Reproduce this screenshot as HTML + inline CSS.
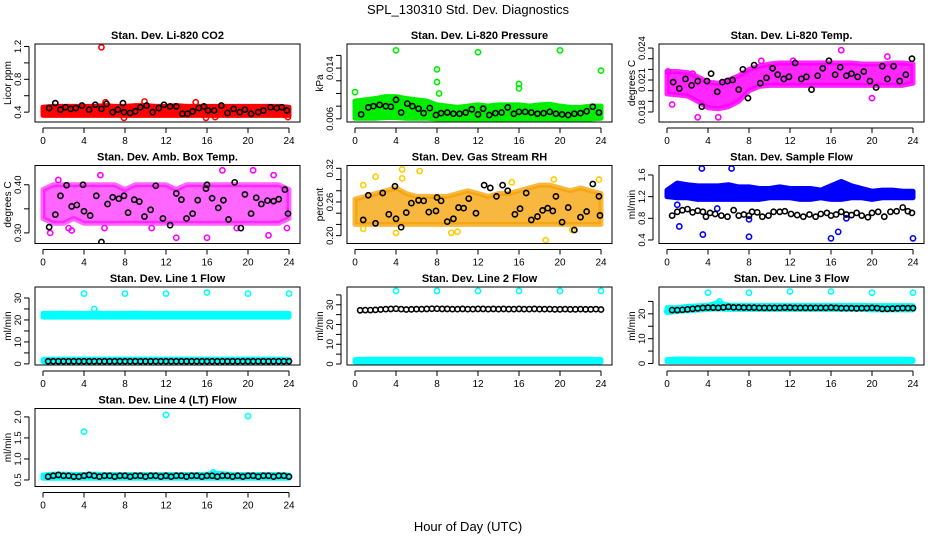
<!DOCTYPE html>
<html><head><meta charset="utf-8"><style>
body{margin:0;background:#fff}
svg{display:block;font-family:"Liberation Sans",sans-serif}
</style></head><body>
<svg id="c" width="936" height="540" viewBox="0 0 936 540">
<text x="468" y="14" text-anchor="middle" font-size="13">SPL_130310  Std. Dev. Diagnostics</text>
<text x="468" y="531" text-anchor="middle" font-size="13">Hour of Day (UTC)</text>
</svg>
<script>
const hours=[0,1,2,3,4,5,6,7,8,9,10,11,12,13,14,15,16,17,18,19,20,21,22,23,24];
// ---- Panel 1: Li-820 CO2
const p1Lo=[0.36,0.36,0.36,0.36,0.36,0.36,0.36,0.36,0.36,0.36,0.36,0.36,0.36,0.36,0.36,0.36,0.36,0.36,0.36,0.36,0.36,0.36,0.36,0.36,0.36];
const p1Hi=[0.46,0.47,0.47,0.47,0.47,0.47,0.48,0.47,0.47,0.48,0.48,0.47,0.47,0.48,0.47,0.47,0.47,0.47,0.47,0.47,0.47,0.47,0.47,0.47,0.46];
const p1OutX=[5.7,7.9,15.9,16.8,23.9,9.9,6.1,14.9];
const p1OutY=[1.19,0.33,0.33,0.34,0.34,0.53,0.52,0.52];
const p1BX=[0.6,1.2,1.7,2.2,2.7,3.2,3.8,4.5,5.1,5.7,6.2,6.8,7.3,7.8,7.9,8.5,9,9.5,10.1,10.7,11.3,11.8,12.4,13,13.6,14.1,14.6,15.2,15.7,16.1,16.7,17.4,18,18.6,19.2,19.7,20.3,21,21.5,22.2,22.8,23.3,23.8];
const p1BY=[0.45,0.51,0.43,0.46,0.44,0.45,0.48,0.43,0.49,0.44,0.50,0.40,0.43,0.51,0.40,0.39,0.41,0.46,0.48,0.40,0.45,0.49,0.47,0.47,0.38,0.38,0.41,0.45,0.47,0.42,0.42,0.48,0.39,0.44,0.40,0.43,0.38,0.40,0.42,0.46,0.45,0.46,0.42];
// ---- Panel 2: Pressure
const p2Lo=[0.0061,0.0061,0.0061,0.0062,0.0062,0.0061,0.0061,0.0061,0.0060,0.0060,0.0060,0.0060,0.0060,0.0060,0.0060,0.0060,0.0060,0.0060,0.0060,0.0060,0.0060,0.0060,0.0060,0.0060,0.0061];
const p2Hi=[0.0088,0.0090,0.0092,0.0095,0.0095,0.0092,0.0090,0.0088,0.0082,0.0080,0.0078,0.0080,0.0082,0.0080,0.0082,0.0082,0.0082,0.0080,0.0082,0.0083,0.0080,0.0078,0.0078,0.0080,0.0080];
const p2OutX=[4,12,20,24,8,8,16,16,0,14,20,8.2];
const p2OutY=[0.0168,0.0165,0.0168,0.0136,0.0138,0.0118,0.0115,0.0108,0.0102,0.0057,0.0057,0.0100];
const p2BX=[0.6,1.3,1.8,2.4,3,3.5,4,4.5,5.1,5.6,6.2,6.7,7.3,7.9,8.4,9,9.6,10.2,10.8,11.4,12,12.5,13.1,13.7,14.3,14.9,15.5,16,16.6,17.2,17.8,18.4,19,19.6,20.2,20.8,21.4,22,22.6,23.2,23.8];
const p2BY=[0.0067,0.0078,0.0080,0.0082,0.0080,0.0079,0.0090,0.0070,0.0084,0.0080,0.0076,0.0069,0.0077,0.0066,0.0069,0.0070,0.0068,0.0068,0.0070,0.0075,0.0067,0.0076,0.0066,0.0069,0.0070,0.0078,0.0068,0.0071,0.0071,0.0070,0.0068,0.0069,0.0071,0.0068,0.0067,0.0066,0.0068,0.0069,0.0072,0.0079,0.0070];
// ---- Panel 3: Li-820 Temp
const p3Lo=[0.0197,0.0196,0.0195,0.0190,0.0184,0.0183,0.0185,0.0190,0.0200,0.0204,0.0205,0.0205,0.0205,0.0205,0.0205,0.0205,0.0205,0.0205,0.0205,0.0205,0.0205,0.0205,0.0205,0.0205,0.0207];
const p3Hi=[0.0218,0.0218,0.0217,0.0213,0.0208,0.0207,0.0210,0.0214,0.0220,0.0223,0.0225,0.0226,0.0226,0.0226,0.0226,0.0226,0.0226,0.0226,0.0226,0.0225,0.0225,0.0225,0.0226,0.0226,0.0225];
const p3OutX=[17,3,5,20,0.5,9.2,12.3,21.5,0.1,2.5];
const p3OutY=[0.0238,0.0175,0.0175,0.0193,0.0187,0.0228,0.0228,0.0232,0.0218,0.0216];
const p3BX=[0.6,1.2,1.8,2.4,3,3.4,3.9,4.3,4.9,5.4,5.9,6.4,7,7.4,7.9,8.5,9.1,9.7,10.3,10.8,11.4,11.9,12.5,13.1,13.6,14.1,14.7,15.2,15.8,16.4,16.9,17.5,18,18.6,19.2,19.8,20.4,21,21.5,22.1,22.7,23.3,23.9];
const p3BY=[0.0208,0.0202,0.0211,0.0205,0.0209,0.0185,0.0209,0.0216,0.0199,0.0208,0.0209,0.0210,0.0201,0.0220,0.0193,0.0224,0.0207,0.0212,0.0221,0.0215,0.0211,0.0213,0.0226,0.0211,0.0213,0.0201,0.0214,0.0221,0.0228,0.0215,0.0222,0.0214,0.0216,0.0213,0.0218,0.0209,0.0203,0.0223,0.0211,0.0223,0.0209,0.0215,0.0230];
// ---- Panel 4: Amb. Box Temp
const p4Lo=[0.33,0.32,0.32,0.33,0.32,0.32,0.32,0.32,0.32,0.32,0.32,0.32,0.32,0.32,0.32,0.32,0.32,0.32,0.32,0.32,0.32,0.32,0.32,0.32,0.33];
const p4Hi=[0.39,0.40,0.40,0.40,0.40,0.40,0.40,0.40,0.39,0.40,0.40,0.40,0.40,0.39,0.40,0.40,0.40,0.40,0.40,0.40,0.40,0.40,0.40,0.40,0.39];
const p4OutX=[1.5,5.6,17.5,20.5,22.5,0.7,2.5,6,13,16,22,23.8,2.8,10.6,18.9];
const p4OutY=[0.41,0.42,0.43,0.43,0.42,0.30,0.31,0.31,0.29,0.29,0.295,0.31,0.305,0.31,0.31];
const p4BX=[0.6,1.2,1.7,2.3,2.8,3.3,3.9,4,4.6,5.2,5.7,6.3,6.8,7.4,7.9,8.3,8.9,9.4,9.9,10.5,11,11.7,12.4,13,13.5,14,14.6,15.1,15.9,16,16.5,17.1,17.6,18.1,18.7,19.3,19.7,20.3,20.8,21.3,21.9,22.5,23,23.6,23.9];
const p4BY=[0.312,0.338,0.377,0.399,0.355,0.358,0.400,0.345,0.336,0.377,0.281,0.360,0.374,0.371,0.377,0.342,0.369,0.365,0.334,0.348,0.398,0.330,0.316,0.382,0.369,0.330,0.340,0.368,0.392,0.400,0.372,0.352,0.368,0.328,0.405,0.310,0.380,0.340,0.373,0.360,0.367,0.366,0.370,0.390,0.340];
// ---- Panel 5: Gas Stream RH
const p5Lo=[0.22,0.22,0.22,0.22,0.22,0.22,0.22,0.22,0.22,0.22,0.22,0.22,0.22,0.22,0.22,0.22,0.22,0.22,0.22,0.22,0.22,0.22,0.22,0.22,0.22];
const p5Hi=[0.265,0.270,0.275,0.280,0.285,0.275,0.270,0.270,0.270,0.270,0.275,0.280,0.275,0.270,0.275,0.275,0.280,0.285,0.290,0.290,0.285,0.280,0.285,0.280,0.275];
const p5OutX=[4.6,6.3,18.6,2,19.4,23.8,0.8,0.8,4,9.4,10,21.2,4.6,15.3];
const p5OutY=[0.318,0.315,0.192,0.305,0.300,0.300,0.290,0.212,0.205,0.205,0.207,0.210,0.302,0.295];
const p5BX=[0.8,1.3,2,2.7,3.3,3.9,4,4.5,5,5.5,6.2,6.7,7.2,7.9,8,8.4,9,9.6,10.1,10.6,11.1,11.8,12.6,13.2,13.8,14.4,14.9,15.6,16.1,16.7,17.2,17.8,18.3,18.8,19.3,19.6,20.2,20.8,21.4,22,22.6,23.2,23.8,23.9];
const p5BY=[0.228,0.272,0.222,0.276,0.238,0.288,0.230,0.215,0.241,0.258,0.263,0.262,0.242,0.244,0.268,0.262,0.225,0.230,0.250,0.249,0.266,0.240,0.290,0.285,0.270,0.290,0.280,0.238,0.248,0.276,0.228,0.234,0.245,0.249,0.244,0.270,0.224,0.250,0.210,0.233,0.243,0.292,0.270,0.236];
// ---- Panel 6: Sample Flow
const p6Lo=[1.20,1.18,1.18,1.15,1.15,1.15,1.15,1.15,1.15,1.15,1.18,1.18,1.18,1.15,1.15,1.18,1.15,1.15,1.18,1.18,1.15,1.18,1.18,1.18,1.18];
const p6Hi=[1.32,1.45,1.42,1.40,1.40,1.40,1.42,1.38,1.38,1.35,1.35,1.38,1.35,1.35,1.35,1.32,1.40,1.48,1.40,1.35,1.30,1.32,1.32,1.30,1.30];
const p6OutX=[3.4,6.3,1.2,3.5,8,16,16.7,24,17.5,8,1,4.9];
const p6OutY=[1.72,1.72,0.65,0.50,0.46,0.43,0.55,0.43,0.80,0.78,1.05,0.98];
const p6BX=[0.5,1,1.5,2,2.5,3,3.5,3.8,4.2,4.7,5.3,5.9,6.5,7,7.5,8,8.3,8.8,9.3,9.9,10.4,11,11.5,12.1,12.7,13.3,13.9,14.5,15,15.6,16,16.5,17,17.5,18,18.5,19,19.6,20,20.6,21.2,21.8,22.4,23,23.5,23.9];
const p6BY=[0.85,0.92,0.95,0.97,0.91,0.94,0.92,0.83,0.90,0.88,0.85,0.83,0.95,0.85,0.87,0.85,0.92,0.91,0.83,0.85,0.92,0.92,0.93,0.88,0.86,0.83,0.87,0.83,0.88,0.90,0.85,0.87,0.92,0.87,0.86,0.90,0.85,0.82,0.90,0.92,0.83,0.92,0.93,1.00,0.93,0.90];
// ---- Panel 7: Line 1 Flow
const p7Lo=[21.3,21.3,21.3,21.3,21.3,21.3,21.3,21.3,21.3,21.3,21.3,21.3,21.3,21.3,21.3,21.3,21.3,21.3,21.3,21.3,21.3,21.3,21.3,21.3,21.3];
const p7Hi=[23.0,23.0,23.1,23.0,23.0,23.1,23.0,23.0,23.0,23.1,23.0,23.0,23.0,23.0,23.0,23.0,23.0,23.0,23.0,23.0,23.0,23.0,23.0,23.0,23.0];
const p7Lo2=[1.0,1.0,1.0,1.0,1.0,1.0,1.0,1.0,1.0,1.0,1.0,1.0,1.0,1.0,1.0,1.0,1.0,1.0,1.0,1.0,1.0,1.0,1.0,1.0,1.0];
const p7Hi2=[2.0,2.2,2.2,2.2,2.2,2.2,2.2,2.2,2.2,2.2,2.2,2.2,2.2,2.2,2.2,2.2,2.2,2.2,2.2,2.2,2.2,2.2,2.2,2.2,2.0];
const p7OutX=[4,8,12,16,20,24,5];
const p7OutY=[32,32,32,32.5,32,32,25];
const p7BX=[0.5,1,1.5,2,2.5,3,3.5,4,4.5,5,5.5,6,6.5,7,7.5,8,8.5,9,9.5,10,10.5,11,11.5,12,12.5,13,13.5,14,14.5,15,15.5,16,16.5,17,17.5,18,18.5,19,19.5,20,20.5,21,21.5,22,22.5,23,23.5,24];
const p7BY=[1.2,1.2,1.2,1.2,1.2,1.2,1.2,1.2,1.2,1.2,1.2,1.2,1.2,1.2,1.2,1.2,1.2,1.2,1.2,1.2,1.2,1.2,1.2,1.2,1.2,1.2,1.2,1.2,1.2,1.2,1.2,1.2,1.2,1.2,1.2,1.2,1.2,1.2,1.2,1.2,1.2,1.2,1.2,1.2,1.2,1.2,1.2,1.2];
// ---- Panel 8: Line 2 Flow
const p8Lo=[1.0,1.0,1.0,1.0,1.0,1.0,1.0,1.0,1.0,1.0,1.0,1.0,1.0,1.0,1.0,1.0,1.0,1.0,1.0,1.0,1.0,1.0,1.0,1.0,1.0];
const p8Hi=[2.3,2.4,2.4,2.4,2.4,2.4,2.4,2.4,2.4,2.4,2.4,2.4,2.4,2.4,2.4,2.4,2.4,2.4,2.4,2.4,2.4,2.4,2.4,2.4,2.3];
const p8OutX=[4,8,12,16,20,24];
const p8OutY=[37,37,37,37,37,37];
const p8BX=[0.5,1,1.5,2,2.5,3,3.5,4,4.5,5,5.5,6,6.5,7,7.5,8,8.5,9,9.5,10,10.5,11,11.5,12,12.5,13,13.5,14,14.5,15,15.5,16,16.5,17,17.5,18,18.5,19,19.5,20,20.5,21,21.5,22,22.5,23,23.5,24];
const p8BY=[27.2,27.3,27.3,27.4,27.6,27.8,27.9,28.0,27.8,27.6,27.7,27.8,27.8,27.9,28.0,28.0,27.9,27.9,27.8,27.8,27.9,27.8,27.8,27.9,27.9,27.8,27.9,27.8,27.9,27.8,27.8,27.9,27.8,27.8,27.9,27.8,27.8,27.8,27.7,27.7,27.8,27.7,27.7,27.8,27.7,27.7,27.8,27.6];
// ---- Panel 9: Line 3 Flow
const p9Lo=[20.5,21.0,21.3,21.5,21.8,22.0,21.8,21.8,21.8,21.8,21.8,21.8,21.8,21.8,21.8,21.8,21.8,21.8,21.8,21.8,21.6,21.6,21.6,21.6,21.6];
const p9Hi=[22.5,22.5,23.0,23.2,23.4,24.5,23.5,23.4,23.4,23.4,23.4,23.4,23.4,23.4,23.4,23.4,23.4,23.4,23.4,23.4,23.3,23.3,23.3,23.3,23.3];
const p9Lo2=[0.8,0.8,0.8,0.8,0.8,0.8,0.8,0.8,0.8,0.8,0.8,0.8,0.8,0.8,0.8,0.8,0.8,0.8,0.8,0.8,0.8,0.8,0.8,0.8,0.8];
const p9Hi2=[1.6,1.8,1.8,1.7,1.7,1.7,1.7,1.7,1.7,1.7,1.7,1.7,1.7,1.7,1.7,1.7,1.7,1.7,1.7,1.7,1.7,1.7,1.7,1.7,1.6];
const p9OutX=[4,8,12,16,20,24,5.1,0];
const p9OutY=[28.5,28.5,29,29,28.5,28.5,25,21];
const p9BX=[0.5,1,1.5,2,2.5,3,3.5,4,4.5,5,5.5,6,6.5,7,7.5,8,8.5,9,9.5,10,10.5,11,11.5,12,12.5,13,13.5,14,14.5,15,15.5,16,16.5,17,17.5,18,18.5,19,19.5,20,20.5,21,21.5,22,22.5,23,23.5,24];
const p9BY=[21.5,21.5,21.6,21.8,22.0,22.2,22.4,22.5,22.5,22.4,22.6,22.8,22.6,22.6,22.5,22.5,22.5,22.4,22.4,22.4,22.4,22.4,22.5,22.5,22.4,22.4,22.4,22.4,22.4,22.4,22.4,22.5,22.4,22.3,22.3,22.3,22.2,22.3,22.3,22.4,22.3,22.0,22.0,22.1,22.2,22.3,22.3,22.3];
// ---- Panel 10: Line 4 (LT) Flow
const p10Lo=[0.54,0.54,0.54,0.54,0.54,0.54,0.54,0.54,0.54,0.54,0.54,0.54,0.54,0.54,0.54,0.54,0.54,0.54,0.54,0.54,0.54,0.54,0.54,0.54,0.54];
const p10Hi=[0.62,0.64,0.64,0.63,0.63,0.64,0.63,0.63,0.63,0.63,0.63,0.63,0.63,0.63,0.63,0.63,0.64,0.66,0.64,0.63,0.63,0.63,0.63,0.63,0.62];
const p10OutX=[4,12,20,16.6];
const p10OutY=[1.65,2.05,2.02,0.68];
const p10BX=[0.5,1,1.5,2,2.5,3,3.5,4,4.5,5,5.5,6,6.5,7,7.5,8,8.5,9,9.5,10,10.5,11,11.5,12,12.5,13,13.5,14,14.5,15,15.5,16,16.5,17,17.5,18,18.5,19,19.5,20,20.5,21,21.5,22,22.5,23,23.5,24];
const p10BY=[0.58,0.60,0.62,0.60,0.60,0.58,0.58,0.60,0.62,0.60,0.58,0.60,0.60,0.58,0.60,0.60,0.58,0.60,0.60,0.58,0.60,0.60,0.58,0.60,0.58,0.60,0.60,0.58,0.60,0.60,0.58,0.60,0.60,0.58,0.60,0.60,0.58,0.60,0.58,0.60,0.60,0.58,0.60,0.60,0.58,0.60,0.60,0.58];

const xTicks=[0,4,8,12,16,20,24];
const panels=[
 {name:'co2',title:'Stan. Dev. Li-820 CO2',yl:'Licor ppm',col:0,row:0,ymin:0.28,ymax:1.23,ticks:[0.4,0.6,0.8,1.0,1.2],labels:['0.4','','0.8','','1.2'],color:'#ff0000',lo:p1Lo,hi:p1Hi,ox:p1OutX,oy:p1OutY,bx:p1BX,by:p1BY,op:1},
 {name:'pressure',title:'Stan. Dev. Li-820 Pressure',yl:'kPa',col:1,row:0,ymin:0.0055,ymax:0.0178,ticks:[0.006,0.008,0.010,0.012,0.014,0.016],labels:['0.006','','','','0.014',''],color:'#00ee00',lo:p2Lo,hi:p2Hi,ox:p2OutX,oy:p2OutY,bx:p2BX,by:p2BY,op:1},
 {name:'li820-temp',title:'Stan. Dev. Li-820 Temp.',yl:'degrees C',col:2,row:0,ymin:0.01706,ymax:0.02438,ticks:[0.018,0.019,0.020,0.021,0.022,0.023,0.024],labels:['0.018','','','0.021','','','0.024'],color:'#ff00ff',lo:p3Lo,hi:p3Hi,ox:p3OutX,oy:p3OutY,bx:p3BX,by:p3BY,op:0.85},
 {name:'amb-box-temp',title:'Stan. Dev. Amb. Box Temp.',yl:'degrees C',col:0,row:1,ymin:0.278,ymax:0.44,ticks:[0.30,0.35,0.40],labels:['0.30','','0.40'],color:'#ff00ff',lo:p4Lo,hi:p4Hi,ox:p4OutX,oy:p4OutY,bx:p4BX,by:p4BY,op:0.6},
 {name:'gas-rh',title:'Stan. Dev. Gas Stream RH',yl:'percent',col:1,row:1,ymin:0.186,ymax:0.325,ticks:[0.20,0.22,0.24,0.26,0.28,0.30,0.32],labels:['0.20','','','0.26','','','0.32'],color:'#f5a000',lo:p5Lo,hi:p5Hi,ox:p5OutX,oy:p5OutY,bx:p5BX,by:p5BY,op:0.75,oc:'#ffcc00'},
 {name:'sample-flow',title:'Stan. Dev. Sample Flow',yl:'ml/min',col:2,row:1,ymin:0.335,ymax:1.775,ticks:[0.4,0.8,1.2,1.6],labels:['0.4','0.8','1.2','1.6'],color:'#0000ff',lo:p6Lo,hi:p6Hi,ox:p6OutX,oy:p6OutY,bx:p6BX,by:p6BY,op:1},
 {name:'line1-flow',title:'Stan. Dev. Line 1 Flow',yl:'ml/min',col:0,row:2,ymin:-0.5,ymax:35,ticks:[0,5,10,15,20,25,30],labels:['0','','10','','20','','30'],color:'#00ffff',lo:p7Lo,hi:p7Hi,lo2:p7Lo2,hi2:p7Hi2,ox:p7OutX,oy:p7OutY,bx:p7BX,by:p7BY,op:1},
 {name:'line2-flow',title:'Stan. Dev. Line 2 Flow',yl:'ml/min',col:1,row:2,ymin:-0.5,ymax:39,ticks:[0,5,10,15,20,25,30,35],labels:['0','','10','','20','','30',''],color:'#00ffff',lo:p8Lo,hi:p8Hi,ox:p8OutX,oy:p8OutY,bx:p8BX,by:p8BY,op:1},
 {name:'line3-flow',title:'Stan. Dev. Line 3 Flow',yl:'ml/min',col:2,row:2,ymin:-0.6,ymax:30.8,ticks:[0,5,10,15,20,25],labels:['0','','10','','20',''],color:'#00ffff',lo:p9Lo,hi:p9Hi,lo2:p9Lo2,hi2:p9Hi2,ox:p9OutX,oy:p9OutY,bx:p9BX,by:p9BY,op:1},
 {name:'line4-flow',title:'Stan. Dev. Line 4 (LT) Flow',yl:'ml/min',col:0,row:3,ymin:0.345,ymax:2.2,ticks:[0.5,1.0,1.5,2.0],labels:['0.5','1.0','1.5','2.0'],color:'#00ffff',lo:p10Lo,hi:p10Hi,ox:p10OutX,oy:p10OutY,bx:p10BX,by:p10BY,op:1}
];
const svg=document.getElementById('c');
const NS='http://www.w3.org/2000/svg';
function mk(tag,attrs,parent){const e=document.createElementNS(NS,tag);for(const k in attrs)e.setAttribute(k,attrs[k]);(parent||svg).appendChild(e);return e;}
panels.forEach(p=>{
 const L=35+p.col*312,W=265,T=44+p.row*121.5,H=78;
 const sx=v=>L+8+(v/24)*246;
 const sy=v=>T+H-(v-p.ymin)/(p.ymax-p.ymin)*H;
 const g=mk('g',{});
 
 
 const cp=mk('clipPath',{id:'cp'+p.name},g);
 mk('rect',{x:L,y:T,width:W,height:H},cp);
 const t=mk('text',{x:L+W/2,y:T-5,'text-anchor':'middle','font-size':'11','font-weight':'bold'},g);
 t.textContent=p.title;
 
 
 const yt=mk('text',{x:L-24,y:T+H/2,'text-anchor':'middle','font-size':'10',transform:`rotate(-90 ${L-24} ${T+H/2})`},g);
 yt.textContent=p.yl;
 
 
 const data=mk('g',{'clip-path':`url(#cp${p.name})`},g);
 
 
 function band(lo,hi){
  let pts=hours.map((h,i)=>sx(h)+','+sy(hi[i]));
  pts=pts.concat(hours.slice().reverse().map((h,j)=>{const i=hours.length-1-j;return sx(h)+','+sy(lo[i]);}));
  const b=mk('polygon',{points:pts.join(' '),fill:p.color,'fill-opacity':p.op,stroke:p.color,'stroke-width':5,'stroke-linejoin':'round','stroke-opacity':p.op},data);
  
  
 }
 band(p.lo,p.hi);
 if(p.lo2)band(p.lo2,p.hi2);
 p.ox.forEach((x,i)=>{
  const c=mk('circle',{cx:sx(x),cy:sy(p.oy[i]),r:2.6,fill:'none',stroke:p.oc||p.color,'stroke-width':1.6},data);
  
  
 });
 const n=Math.min(p.bx.length,p.by.length);
 for(let i=0;i<n;i++){
  const c=mk('circle',{cx:sx(p.bx[i]),cy:sy(p.by[i]),r:2.6,fill:'none',stroke:'#000','stroke-width':1.6},data);
  
  
 }
 const box=mk('rect',{x:L,y:T,width:W,height:H,fill:'none',stroke:'#000','stroke-width':1},g);
 
 
 mk('line',{x1:sx(0),x2:sx(24),y1:T+H+6,y2:T+H+6,stroke:'#000'},g);
 xTicks.forEach(v=>{
  mk('line',{x1:sx(v),x2:sx(v),y1:T+H+6,y2:T+H+11,stroke:'#000'},g);
  const tl=mk('text',{x:sx(v),y:T+H+22,'text-anchor':'middle','font-size':'10'},g);
  tl.textContent=String(v);
  
  
 });
 const yv=p.ticks;
 mk('line',{x1:L-6,x2:L-6,y1:sy(yv[0]),y2:sy(yv[yv.length-1]),stroke:'#000'},g);
 yv.forEach((v,i)=>{
  mk('line',{x1:L-11,x2:L-6,y1:sy(v),y2:sy(v),stroke:'#000'},g);
  if(p.labels[i]){
   const yy=sy(v);
   const tl=mk('text',{x:L-14,y:yy,'text-anchor':'middle','font-size':'9.5',transform:`rotate(-90 ${L-14} ${yy})`},g);
   tl.textContent=p.labels[i];
   
   
  }
 });
});
</script>
</body></html>
